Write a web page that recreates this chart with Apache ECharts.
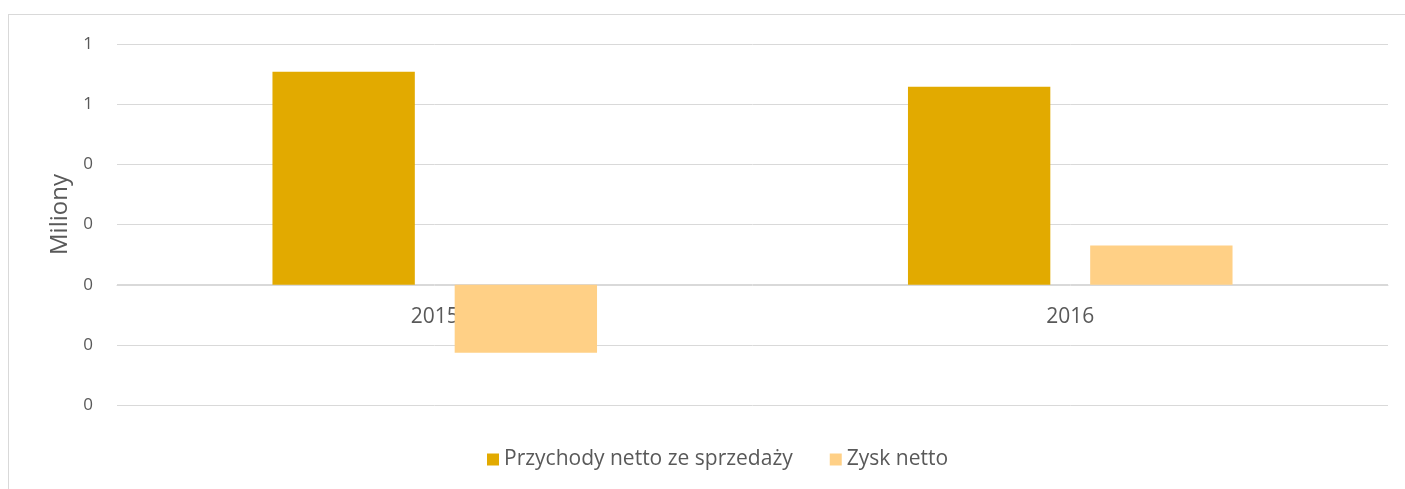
<!DOCTYPE html>
<html>
<head>
<meta charset="utf-8">
<script src="https://cdn.jsdelivr.net/npm/echarts@6/dist/echarts.min.js"></script>
<style>
  html, body { margin: 0; padding: 0; overflow: hidden; background: #fff; }
  #frame { position: absolute; left: 8px; top: 14px; width: 1500px; height: 600px; border: 1px solid #d9d9d9; }
  #chart { position: absolute; left: 0; top: 0; width: 1405px; height: 489px; }
</style>
</head>
<body>
<div id="frame"></div>
<div id="chart"></div>
<script>
// wartości w milionach
const years = ['2015', '2016']
const przychody = [0.708, 0.658]
const zysk = [-0.226, 0.13]

const textColor = '#595959'
const font = '"Open Sans", sans-serif'

const chart = echarts.init(document.getElementById('chart'))
chart.setOption({
  animation: false,
  textStyle: { fontFamily: font },
  grid: { left: 117, right: 17, top: 44, bottom: 84 },
  legend: {
    top: 444,
    left: 482,
    itemWidth: 12,
    itemHeight: 12,
    itemGap: 37,
    icon: 'rect',
    textStyle: { color: textColor, fontSize: 21, fontFamily: font },
    data: ['Przychody netto ze sprzedaży', 'Zysk netto']
  },
  xAxis: {
    type: 'category',
    data: years,
    // oś kategorii rysowana na poziomie zera
    offset: -120,
    axisLine: { onZero: false, lineStyle: { color: '#d9d9d9', width: 1 } },
    axisTick: { show: false },
    axisLabel: { color: textColor, fontSize: 21, margin: 22, fontFamily: font }
  },
  yAxis: {
    type: 'value',
    name: 'Miliony',
    nameLocation: 'middle',
    nameGap: 43,
    nameTextStyle: { color: textColor, fontSize: 24, fontFamily: font, padding: [0, 0, 0, 20] },
    min: -0.4,
    max: 0.8,
    interval: 0.2,
    axisLine: { show: false },
    axisTick: { show: false },
    splitLine: { lineStyle: { color: '#d9d9d9', width: 1 } },
    axisLabel: {
      color: textColor,
      fontSize: 17,
      margin: 24,
      fontFamily: font,
      formatter: v => String(Math.round(v) + 0)
    }
  },
  series: [
    {
      name: 'Przychody netto ze sprzedaży',
      type: 'bar',
      data: przychody,
      barWidth: '22.4%',
      barGap: '28%',
      itemStyle: { color: '#E2AA00' }
    },
    {
      name: 'Zysk netto',
      type: 'bar',
      data: zysk,
      barWidth: '22.4%',
      itemStyle: { color: '#FFD086' }
    }
  ]
})
</script>
</body>
</html>
